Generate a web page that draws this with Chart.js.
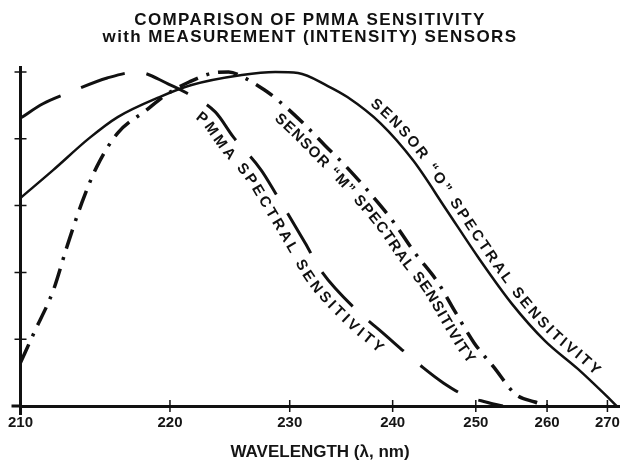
<!DOCTYPE html>
<html>
<head>
<meta charset="utf-8">
<script src="https://cdn.jsdelivr.net/npm/chart.js@4.4.1/dist/chart.umd.min.js"></script>
<style>
  html, body { margin: 0; padding: 0; background: #fff; }
  #wrap { width: 628px; height: 466px; }
</style>
</head>
<body>
<div id="wrap"><canvas id="chart" width="628" height="466"></canvas></div>
<script>
// printed wavelength axis is not linear: tick values and the gaps between them
const xTicks = [210, 220, 230, 240, 250, 260, 270];
const xTickGaps = [151, 121, 104, 84, 72, 61];

// PMMA spectral sensitivity (long dashes)
const pmmaWave = [210, 211.5, 213.5, 215.8, 217.8, 219.9, 221.4, 223.8, 225.3, 227.6, 228.8, 231.5, 233.0, 236.7, 238.7, 243.7, 246.1, 248.8, 251.4, 253.8];
const pmmaSens = [0.862, 0.905, 0.943, 0.982, 1.0, 0.964, 0.937, 0.880, 0.805, 0.707, 0.638, 0.488, 0.407, 0.281, 0.228, 0.114, 0.069, 0.030, 0.012, 0];

// sensor "M" (dash-dot)
const mWave = [210, 210.9, 212.2, 213.1, 214.1, 215.1, 216.5, 218.4, 219.7, 221.6, 223.6, 224.9, 226.1, 227.9, 228.8, 231.3, 233.4, 235.6, 238.1, 240.1, 242.6, 245.5, 247.4, 249.8, 252.5, 255.6, 258.3, 260.1];
const mSens = [0.13, 0.219, 0.347, 0.476, 0.608, 0.716, 0.817, 0.885, 0.931, 0.970, 0.997, 1.0, 0.985, 0.946, 0.922, 0.847, 0.781, 0.713, 0.626, 0.551, 0.461, 0.368, 0.287, 0.189, 0.117, 0.035, 0.012, 0];

// sensor "O" (solid)
const oWave = [210, 212.2, 214.6, 216.5, 219.3, 221.8, 226.0, 228.8, 230.8, 233.7, 235.6, 238.8, 242.5, 246.4, 250.4, 255.1, 259.7, 265.1, 269.5, 271.5];
const oSens = [0.623, 0.707, 0.802, 0.865, 0.925, 0.961, 0.991, 1.0, 0.997, 0.958, 0.925, 0.847, 0.734, 0.590, 0.443, 0.305, 0.195, 0.111, 0.036, 0];

const titleLines = ['COMPARISON OF PMMA SENSITIVITY', 'with MEASUREMENT (INTENSITY) SENSORS'];

// labels written along the curves: dataset, text, from/to wavelength, offset (+ above)
const curveLabels = [
    { ds: 0, text: 'PMMA SPECTRAL SENSITIVITY', from: 223.3, to: 239.2, off: -14 },
    { ds: 1, text: 'SENSOR \u201CM\u201D SPECTRAL SENSITIVITY', from: 229.8, to: 250.3, off: -13 },
    { ds: 2, text: 'SENSOR \u201CO\u201D SPECTRAL SENSITIVITY', from: 237.5, to: 266.5, off: 11 }
];

const FONT = "'Liberation Sans', Arial, Helvetica, sans-serif";
Chart.defaults.font.family = FONT;
Chart.defaults.color = '#151515';

// wavelength -> position in "gap units"
function warp(v) {
    let pos = 0;
    for (let i = 0; i < xTickGaps.length; i++) {
        const a = xTicks[i], b = xTicks[i + 1];
        if (v <= b || i === xTickGaps.length - 1) {
            return pos + (v - a) / (b - a) * xTickGaps[i];
        }
        pos += xTickGaps[i];
    }
}
function unwarp(p) {
    let pos = 0;
    for (let i = 0; i < xTickGaps.length; i++) {
        const a = xTicks[i], b = xTicks[i + 1];
        if (p <= pos + xTickGaps[i] || i === xTickGaps.length - 1) {
            return a + (p - pos) / xTickGaps[i] * (b - a);
        }
        pos += xTickGaps[i];
    }
}

class WarpScale extends Chart.LinearScale {
    getPixelForValue(value) {
        if (value === null || value === undefined) return NaN;
        const a = warp(this.min), b = warp(this.max);
        return this.getPixelForDecimal((warp(value) - a) / (b - a));
    }
    getValueForPixel(pixel) {
        const a = warp(this.min), b = warp(this.max);
        return unwarp(a + this.getDecimalForPixel(pixel) * (b - a));
    }
}
WarpScale.id = 'warp';
WarpScale.defaults = Chart.LinearScale.defaults;
Chart.register(WarpScale);

const toPoints = (xs, ys) => xs.map((x, i) => ({ x: x, y: ys[i] }));

// sample the drawn bezier path of a dataset
function samplePath(meta) {
    const pts = meta.data;
    const out = [];
    for (let i = 0; i < pts.length - 1; i++) {
        const p0 = pts[i], p1 = pts[i + 1];
        const c1x = p0.cp2x ?? p0.x, c1y = p0.cp2y ?? p0.y;
        const c2x = p1.cp1x ?? p1.x, c2y = p1.cp1y ?? p1.y;
        for (let k = 0; k < 12; k++) {
            const t = k / 12, u = 1 - t;
            out.push({
                x: u * u * u * p0.x + 3 * u * u * t * c1x + 3 * u * t * t * c2x + t * t * t * p1.x,
                y: u * u * u * p0.y + 3 * u * u * t * c1y + 3 * u * t * t * c2y + t * t * t * p1.y
            });
        }
    }
    const last = pts[pts.length - 1];
    out.push({ x: last.x, y: last.y });
    return out;
}

function drawCurveLabel(chart, lab) {
    const ctx = chart.ctx;
    const path = samplePath(chart.getDatasetMeta(lab.ds));
    const n = path.length;
    // offset path
    const offPath = path.map((p, i) => {
        const a = path[Math.max(0, i - 1)], b = path[Math.min(n - 1, i + 1)];
        let tx = b.x - a.x, ty = b.y - a.y;
        const len = Math.hypot(tx, ty) || 1;
        tx /= len; ty /= len;
        return { x: p.x + lab.off * ty, y: p.y - lab.off * tx };
    });
    const arc = [0];
    for (let i = 1; i < n; i++) {
        arc.push(arc[i - 1] + Math.hypot(offPath[i].x - offPath[i - 1].x, offPath[i].y - offPath[i - 1].y));
    }
    const idxFor = (wave) => {
        const px = chart.scales.x.getPixelForValue(wave);
        for (let i = 0; i < n; i++) if (path[i].x >= px) return i;
        return n - 1;
    };
    const s0 = arc[idxFor(lab.from)], s1 = arc[idxFor(lab.to)];
    const posAt = (s) => {
        let i = 1;
        while (i < n - 1 && arc[i] < s) i++;
        const a = offPath[i - 1], b = offPath[i];
        const f = (s - arc[i - 1]) / ((arc[i] - arc[i - 1]) || 1);
        return { x: a.x + (b.x - a.x) * f, y: a.y + (b.y - a.y) * f, ang: Math.atan2(b.y - a.y, b.x - a.x) };
    };

    ctx.save();
    ctx.font = 'bold 15px ' + FONT;
    ctx.fillStyle = '#111';
    ctx.textAlign = 'center';
    ctx.textBaseline = 'middle';
    const chars = lab.text.split('');
    const widths = chars.map(c => ctx.measureText(c).width);
    const inner = widths.reduce((s, w) => s + w, 0) - widths[0] / 2 - widths[widths.length - 1] / 2;
    const gap = (s1 - s0 - inner) / (chars.length - 1);
    let s = s0;
    chars.forEach((c, i) => {
        if (i > 0) s += widths[i - 1] / 2 + gap + widths[i] / 2;
        const p = posAt(s);
        ctx.save();
        ctx.translate(p.x, p.y);
        ctx.rotate(p.ang);
        ctx.fillText(c, 0, 0);
        ctx.restore();
    });
    ctx.restore();
}

const decorPlugin = {
    id: 'decor',
    afterDraw(chart) {
        const ctx = chart.ctx;
        const xs = chart.scales.x, ys = chart.scales.y;
        const x0 = chart.chartArea.left, y0 = chart.chartArea.bottom;
        ctx.save();
        ctx.strokeStyle = '#111';
        ctx.lineWidth = 1.5;
        ctx.beginPath();
        xs.ticks.forEach((t, i) => {
            const px = xs.getPixelForTick(i);
            ctx.moveTo(px, y0 - 6); ctx.lineTo(px, y0 + 6);
        });
        ys.ticks.forEach((t, i) => {
            const py = ys.getPixelForTick(i);
            ctx.moveTo(x0 - 6, py); ctx.lineTo(x0 + 6, py);
        });
        ctx.stroke();
        ctx.lineWidth = 3;
        ctx.beginPath();
        ctx.moveTo(x0 - 9, y0); ctx.lineTo(x0, y0);
        ctx.moveTo(x0, y0); ctx.lineTo(x0, y0 + 9);
        ctx.stroke();

        // title
        ctx.fillStyle = '#111';
        ctx.font = 'bold 17px ' + FONT;
        ctx.letterSpacing = '1.4px';
        ctx.textAlign = 'center';
        ctx.textBaseline = 'middle';
        ctx.fillText(titleLines[0], 310, 20);
        ctx.fillText(titleLines[1], 310, 37.5);
        ctx.letterSpacing = '0px';
        ctx.restore();

        curveLabels.forEach(lab => drawCurveLabel(chart, lab));
    }
};

new Chart(document.getElementById('chart'), {
    type: 'line',
    data: {
        datasets: [
            {
                label: 'PMMA',
                data: toPoints(pmmaWave, pmmaSens),
                borderColor: '#111',
                borderWidth: 3,
                borderDash: [46, 22],
                cubicInterpolationMode: 'monotone',
                pointRadius: 0,
                fill: false
            },
            {
                label: 'Sensor M',
                data: toPoints(mWave, mSens),
                borderColor: '#111',
                borderWidth: 3.5,
                borderDash: [20, 9, 3, 9],
                cubicInterpolationMode: 'monotone',
                pointRadius: 0,
                fill: false
            },
            {
                label: 'Sensor O',
                data: toPoints(oWave, oSens),
                borderColor: '#111',
                borderWidth: 2.5,
                cubicInterpolationMode: 'monotone',
                pointRadius: 0,
                fill: false
            }
        ]
    },
    options: {
        responsive: false,
        devicePixelRatio: 1,
        animation: false,
        layout: { padding: { top: 67, right: 3, left: 0, bottom: 0 } },
        plugins: {
            legend: { display: false },
            title: { display: false },
            tooltip: { enabled: false }
        },
        scales: {
            x: {
                type: 'warp',
                min: 210,
                max: 272,
                afterFit: (scale) => { scale.height = 60; },
                grid: { display: false, drawTicks: false },
                border: { display: true, color: '#111', width: 3 },
                ticks: {
                    stepSize: 10,
                    includeBounds: false,
                    autoSkip: false,
                    maxRotation: 0,
                    padding: 8,
                    color: '#151515',
                    font: { size: 15, weight: 'bold' }
                },
                title: {
                    display: true,
                    text: 'WAVELENGTH (\u03BB, nm)',
                    color: '#151515',
                    font: { size: 17, weight: 'bold' },
                    padding: { top: 0, bottom: 3 }
                }
            },
            y: {
                type: 'linear',
                min: 0,
                max: 1.015,
                afterFit: (scale) => { scale.width = 20; },
                grid: { display: false, drawTicks: false },
                border: { display: true, color: '#111', width: 3 },
                ticks: { display: false, stepSize: 0.2, includeBounds: false }
            }
        }
    },
    plugins: [decorPlugin]
});
</script>
</body>
</html>
